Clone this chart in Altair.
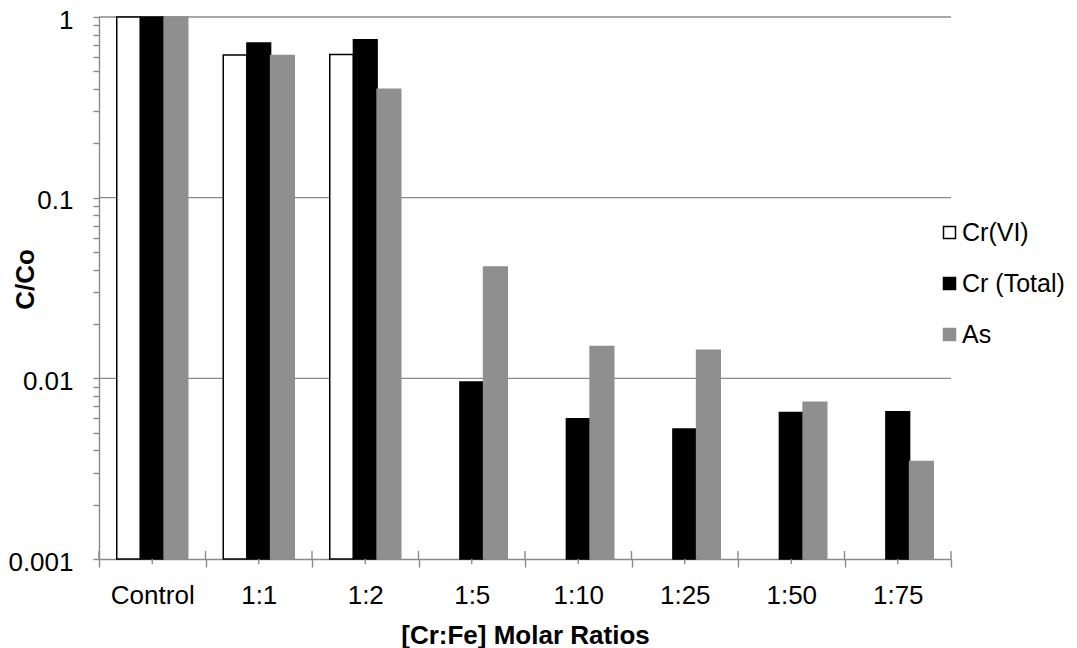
import altair as alt
import pandas as pd

# ---- data ----
categories = ["Control", "1:1", "1:2", "1:5", "1:10", "1:25", "1:50", "1:75"]
series = ["Cr(VI)", "Cr (Total)", "As"]
cr_vi = [1.0, 0.616, 0.621, None, None, None, None, None]
cr_total = [1.0, 0.718, 0.749, 0.00955, 0.00598, 0.00525, 0.00646, 0.00654]
arsenic = [1.0, 0.612, 0.398, 0.0413, 0.01498, 0.0143, 0.00737, 0.00346]

y_tick_values = [0.001, 0.002, 0.003, 0.004, 0.005, 0.006, 0.007, 0.008, 0.009,
                 0.01, 0.02, 0.03, 0.04, 0.05, 0.06, 0.07, 0.08, 0.09,
                 0.1, 0.2, 0.3, 0.4, 0.5, 0.6, 0.7, 0.8, 0.9, 1.0]
grid_values = [1.0, 0.1, 0.01]

fill_colors = ["#ffffff", "#000000", "#8f8f8f"]
stroke_colors = ["#000000", "#000000", "#8f8f8f"]

# ---- table ----
rows = []
for name, vals in zip(series, [cr_vi, cr_total, arsenic]):
    for c, v in zip(categories, vals):
        if v is not None:
            rows.append({"cat": c, "series": name, "value": v})
df = pd.DataFrame(rows)

W, H = 852, 542
FONT = "Liberation Sans"
GRAY = "#8a8a8a"
FS = 26

yscale = alt.Scale(type="log", domain=[0.001, 1], nice=False)
xscale = alt.Scale(domain=categories, paddingInner=0, paddingOuter=0)

legend = alt.Legend(
    title=None, orient="none", legendX=838, legendY=203,
    symbolType="square", symbolSize=144, symbolStrokeWidth=1.5,
    labelFont=FONT, labelFontSize=25, labelColor="#000000",
    labelOffset=0, rowPadding=25, padding=0,
)

x_axis = alt.Axis(
    title="[Cr:Fe] Molar Ratios", titleFont=FONT, titleFontSize=FS,
    titleFontWeight="bold", titleColor="#000000",
    titleX=W / 2, titleY=84, titleBaseline="alphabetic", titleAlign="center",
    labelAngle=0, labelFont=FONT, labelFontSize=FS, labelColor="#000000",
    labelBaseline="alphabetic", labelPadding=36,
    tickSize=8, tickBand="extent", tickColor=GRAY, tickWidth=1.4,
    domainColor=GRAY, domainWidth=1.4, grid=False,
)

y_axis = alt.Axis(
    values=y_tick_values,
    labelExpr="datum.value == 1 ? '1' : datum.value == 0.1 ? '0.1' : "
              "datum.value == 0.01 ? '0.01' : datum.value == 0.001 ? '0.001' : ''",
    title="C/Co", titleFont=FONT, titleFontSize=FS, titleFontWeight="bold",
    titleColor="#000000", titleAngle=270, titleX=-66, titleY=262,
    titleBaseline="alphabetic", titleAlign="center",
    labelFont=FONT, labelFontSize=FS, labelColor="#000000", labelPadding=20,
    labelBaseline="alphabetic", labelOffset=11,
    labelOverlap=False, labelFlush=False,
    tickSize=6, tickColor=GRAY, tickWidth=1.4,
    domainColor=GRAY, domainWidth=1.4, grid=False,
)

grid = alt.Chart(pd.DataFrame({"v": grid_values})).mark_rule(
    color=GRAY, strokeWidth=1.4
).encode(
    y=alt.Y("v:Q", scale=yscale, axis=y_axis),
    x=alt.value(0),
    x2=alt.value(W),
)

bars = alt.Chart(df).mark_bar(strokeWidth=1.5).encode(
    x=alt.X("cat:N", scale=xscale, sort=categories, axis=x_axis),
    xOffset=alt.XOffset("series:N", sort=series,
                        scale=alt.Scale(domain=series, paddingInner=0, paddingOuter=0.75)),
    y=alt.Y("value:Q", scale=yscale, axis=y_axis),
    y2=alt.datum(0.001),
    fill=alt.Fill("series:N", sort=series,
                  scale=alt.Scale(domain=series, range=fill_colors), legend=legend),
    stroke=alt.Stroke("series:N", sort=series,
                      scale=alt.Scale(domain=series, range=stroke_colors), legend=legend),
)

tick_df = pd.DataFrame({"cat": categories})
bound_up = alt.Chart(tick_df).mark_rule(color=GRAY, strokeWidth=1.4).encode(
    x=alt.X("cat:N", scale=xscale, sort=categories, bandPosition=0, axis=x_axis),
    y=alt.value(H - 8), y2=alt.value(H),
)
last_up = alt.Chart(pd.DataFrame({"cat": categories[-1:]})).mark_rule(
    color=GRAY, strokeWidth=1.4
).encode(
    x=alt.X("cat:N", scale=xscale, sort=categories, bandPosition=1, axis=x_axis),
    y=alt.value(H - 8), y2=alt.value(H),
)
center_ticks = alt.Chart(tick_df).mark_rule(color=GRAY, strokeWidth=1.4).encode(
    x=alt.X("cat:N", scale=xscale, sort=categories, axis=x_axis),
    y=alt.value(H), y2=alt.value(H + 5),
)

chart = alt.layer(grid, bars, bound_up, last_up, center_ticks).properties(
    width=W, height=H,
    autosize=alt.AutoSizeParams(type="none"),
    padding={"left": 91, "top": 9, "right": 117, "bottom": 89},
    background="#ffffff",
).configure_view(stroke=None)

chart.save("out.html", embed_options={"renderer": "svg", "actions": False})
